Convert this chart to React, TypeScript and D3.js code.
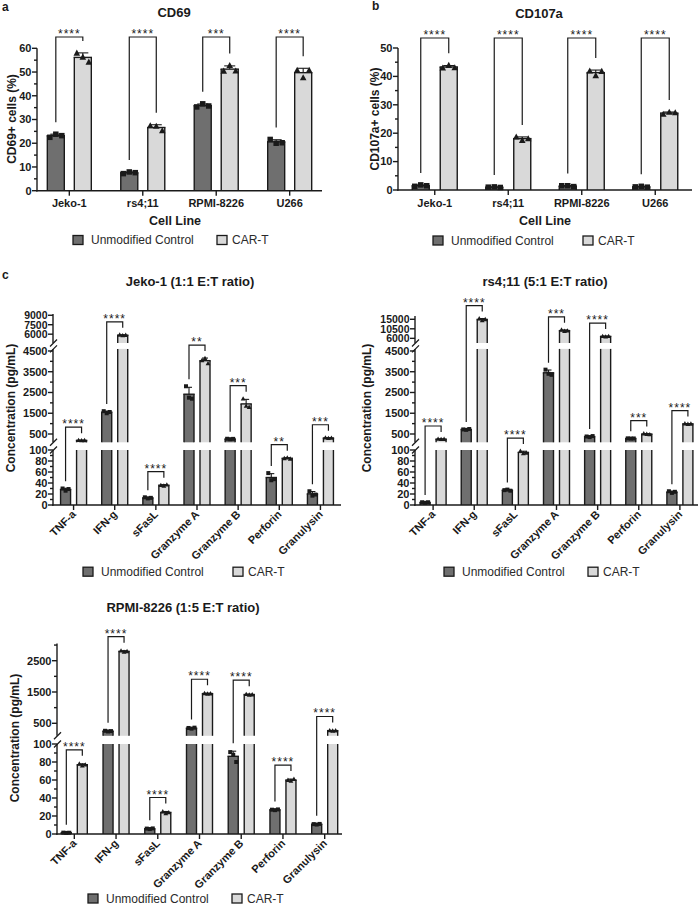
import React from 'react';
import * as d3 from 'd3';

// ---------- data ----------
const cellLines = ['Jeko-1', 'rs4;11', 'RPMI-8226', 'U266'];
const cd69Control = [[22.5, 23.8, 23.2], [7.2, 7.9, 7.6], [35.3, 36.6, 35.7], [21.6, 20.0, 20.2]];
const cd69CarT = [[58.0, 56.3, 54.2], [27.4, 27.2, 25.3], [50.4, 52.8, 50.5], [50.8, 47.6, 50.8]];
const cd69Sig = ['****', '****', '***', '****'];
const cd107aControl = [[1.3, 1.8, 1.5], [1.0, 1.1, 0.9], [1.5, 1.5, 1.2], [1.1, 1.3, 1.0]];
const cd107aCarT = [[43.0, 43.9, 43.1], [18.7, 17.5, 18.1], [41.9, 40.3, 41.8], [26.7, 27.4, 27.2]];
const cd107aSig = ['****', '****', '****', '****'];

const cytokines = ['TNF-a', 'IFN-g', 'sFasL', 'Granzyme A', 'Granzyme B', 'Perforin', 'Granulysin'];
const jekoControl = [[30, 26, 29], [1600, 1500, 1560], [14, 12, 13], [2800, 2250, 2200], [270, 250, 265], [58, 45, 47], [25, 17, 19]];
const jekoCarT = [[200, 190, 195], [5900, 5800, 5850], [36, 35, 37], [4050, 4150, 3900], [2200, 1850, 1800], [85, 86, 84], [320, 300, 310]];
const jekoSig = ['****', '****', '****', '**', '***', '**', '***'];
const rs4Control = [[5, 4, 5], [720, 700, 740], [27, 28, 26], [3600, 3400, 3350], [380, 350, 400], [290, 280, 285], [25, 22, 24]];
const rs4CarT = [[260, 250, 255], [15300, 14500, 15000], [98, 94, 95], [10000, 9400, 9600], [7000, 6800, 7000], [520, 500, 480], [1000, 980, 990]];
const rs4Sig = ['****', '****', '****', '***', '****', '***', '****'];
const rpmiControl = [[1.5, 1.2, 1.4], [260, 240, 250], [6, 5.5, 6.2], [350, 330, 360], [91, 88, 80], [27, 26.5, 27.3], [11, 10.5, 11.2]];
const rpmiCarT = [[78, 76, 77], [2820, 2780, 2800], [25, 23, 24], [1460, 1440, 1450], [1430, 1410, 1420], [60, 59, 61], [270, 260, 265]];
const rpmiSig = ['****', '****', '****', '****', '****', '****', '****'];

const cd69Ticks = [0, 10, 20, 30, 40, 50, 60];
const cd69Minor = [5, 15, 25, 35, 45, 55];
const cd107aTicks = [0, 10, 20, 30, 40, 50];
const cd107aMinor = [5, 15, 25, 35, 45];
const lowTicks = [0, 20, 40, 60, 80, 100];
const lowMinor = [10, 30, 50, 70, 90];
const midTicks = [500, 1500, 2500, 3500, 4500];
const midMinor = [1000, 2000, 3000, 4000];
const jekoTopTicks = [6000, 7500, 9000];
const rs4TopTicks = [6000, 10500, 15000];
const rpmiMidTicks = [500, 1500, 2500];
const rpmiMidMinor = [1000, 2000, 3000];

const legendLabels = ['Unmodified Control', 'CAR-T'];

// ---------- style ----------
const FONT = 'Liberation Sans, Arial, Helvetica, sans-serif';
const CTRL_FILL = '#6f6f6f';
const CAR_FILL = '#d9d9d9';
const INK = '#1a1a1a';
const SW = 1.4;

type Seg = { domain: [number, number]; range: [number, number]; ticks: number[]; minor: number[] };

type PanelProps = {
  cats: string[];
  ctrl: number[][];
  car: number[][];
  sig: string[];
  segs: Seg[];
  axisX: number;
  xEnd: number;
  pad: number;
  barW: number;
  off: number;
  mk: number;
  dx: number;
  capW: number;
  bracketY?: number;
  legGap: number;
  rotate: boolean;
  title: string;
  titleX: number;
  titleY: number;
  yLabel: string;
  yLabelX: number;
  yLabelY: number;
  xTitle?: string;
  xTitleX?: number;
  xTitleY?: number;
  legendY: number;
  legend1X: number;
  legend2X: number;
};

function Panel(p: PanelProps) {
  const x = d3.scalePoint<string>().domain(p.cats).range([p.axisX, p.xEnd]).padding(p.pad);
  const scales = p.segs.map((s) => d3.scaleLinear().domain(s.domain).range(s.range));
  const yOf = (v: number) => {
    for (let i = 0; i < p.segs.length; i++) {
      if (v <= p.segs[i].domain[1] || i === p.segs.length - 1) {
        return scales[i](Math.max(v, p.segs[i].domain[0]));
      }
    }
    return 0;
  };
  const yBase = p.segs[0].range[0];
  const els: React.ReactNode[] = [];

  const stats = (vals: number[]) => {
    const m = d3.mean(vals) as number;
    const sd = d3.deviation(vals) as number;
    return { m, sd, top: Math.max(d3.max(vals) as number, m + sd) };
  };

  p.cats.forEach((c, i) => {
    const gc = x(c) as number;
    [p.ctrl[i], p.car[i]].forEach((vals, s) => {
      const cx = gc + (s === 0 ? -p.off : p.off);
      const { m, sd } = stats(vals);
      const fill = s === 0 ? CTRL_FILL : CAR_FILL;
      const x0 = cx - p.barW / 2;
      const x1 = cx + p.barW / 2;
      p.segs.forEach((seg, k) => {
        if (k > 0 && m <= p.segs[k - 1].domain[1]) return;
        const top = scales[k](Math.min(m, seg.domain[1]));
        const bot = seg.range[0];
        els.push(<rect key={`b${c}${s}${k}`} x={x0} y={top} width={p.barW} height={bot - top} fill={fill} />);
        els.push(<line key={`bl${c}${s}${k}`} x1={x0} x2={x0} y1={top} y2={bot} stroke={INK} strokeWidth={SW} />);
        els.push(<line key={`br${c}${s}${k}`} x1={x1} x2={x1} y1={top} y2={bot} stroke={INK} strokeWidth={SW} />);
        if (m <= seg.domain[1]) {
          els.push(<line key={`bt${c}${s}${k}`} x1={x0 - SW / 2} x2={x1 + SW / 2} y1={top} y2={top} stroke={INK} strokeWidth={SW} />);
        }
      });
      // error bar (mean + SD)
      const ym = yOf(m);
      const ye = yOf(m + sd);
      els.push(<line key={`e${c}${s}`} x1={cx} x2={cx} y1={ym} y2={ye} stroke={INK} strokeWidth={1.1} />);
      els.push(<line key={`ec${c}${s}`} x1={cx - p.capW / 2} x2={cx + p.capW / 2} y1={ye} y2={ye} stroke={INK} strokeWidth={1.1} />);
      // points
      vals.forEach((v, j) => {
        const px = cx + (j - 1) * p.dx;
        const py = yOf(v);
        if (s === 0) {
          els.push(<rect key={`p${c}${s}${j}`} x={px - p.mk / 2} y={py - p.mk / 2} width={p.mk} height={p.mk} fill={INK} />);
        } else {
          const h = p.mk * 1.05;
          els.push(
            <path key={`p${c}${s}${j}`} d={`M${px},${py - h * 0.6}L${px + p.mk * 0.6},${py + h * 0.45}L${px - p.mk * 0.6},${py + h * 0.45}Z`} fill={INK} />
          );
        }
      });
    });
    // significance bracket
    const xl = gc - p.off;
    const xr = gc + p.off;
    const legL = yOf(stats(p.ctrl[i]).top) - p.legGap;
    const legR = yOf(stats(p.car[i]).top) - p.legGap;
    const bt = p.bracketY ?? Math.min(legL, legR) - 6;
    els.push(<path key={`sg${c}`} d={`M${xl},${legL}V${bt}H${xr}V${legR}`} fill="none" stroke={INK} strokeWidth={1.2} />);
    els.push(
      <text key={`st${c}`} x={(xl + xr) / 2} y={bt + 1} textAnchor="middle" fontSize={12} letterSpacing={1} fill={INK}>
        {p.sig[i]}
      </text>
    );
  });

  // y axis segments
  p.segs.forEach((seg, k) => {
    const fs = k > 0 && k === p.segs.length - 1 && p.segs.length > 2 ? 10.5 : 11;
    els.push(<line key={`ya${k}`} x1={p.axisX} x2={p.axisX} y1={seg.range[0] + (k === 0 ? SW / 2 : 0)} y2={seg.range[1]} stroke={INK} strokeWidth={SW} />);
    seg.ticks.forEach((t) => {
      const ty = scales[k](t);
      els.push(<line key={`yt${k}-${t}`} x1={p.axisX - 5} x2={p.axisX} y1={ty} y2={ty} stroke={INK} strokeWidth={SW} />);
      els.push(
        <text key={`yl${k}-${t}`} x={p.axisX - 5.5} y={ty + 3.8} textAnchor="end" fontSize={fs} fontWeight="bold" fill={INK}>
          {t}
        </text>
      );
    });
    seg.minor.forEach((t) => {
      const ty = scales[k](t);
      els.push(<line key={`ym${k}-${t}`} x1={p.axisX - 3} x2={p.axisX} y1={ty} y2={ty} stroke={INK} strokeWidth={SW} />);
    });
    if (k < p.segs.length - 1) {
      const ya = seg.range[1];
      const yb = p.segs[k + 1].range[0];
      [ya, yb].forEach((yy, q) => {
        els.push(<line key={`bk${k}${q}`} x1={p.axisX - 3} x2={p.axisX + 4} y1={yy + 3.5} y2={yy - 3.5} stroke={INK} strokeWidth={1.3} />);
      });
    }
  });

  // x axis
  els.push(<line key="xa" x1={p.axisX - SW / 2} x2={p.xEnd} y1={yBase} y2={yBase} stroke={INK} strokeWidth={SW} />);
  p.cats.forEach((c) => {
    const cx = x(c) as number;
    els.push(<line key={`xt${c}`} x1={cx} x2={cx} y1={yBase} y2={yBase + 5} stroke={INK} strokeWidth={SW} />);
    if (p.rotate) {
      els.push(
        <text key={`xl${c}`} transform={`translate(${cx + 3},${yBase + 10}) rotate(-45)`} textAnchor="end" fontSize={11} fontWeight="bold" fill={INK}>
          {c}
        </text>
      );
    } else {
      els.push(
        <text key={`xl${c}`} x={cx} y={yBase + 16.5} textAnchor="middle" fontSize={11} fontWeight="bold" fill={INK}>
          {c}
        </text>
      );
    }
  });

  // titles
  els.push(
    <text key="title" x={p.titleX} y={p.titleY} textAnchor="middle" fontSize={13} fontWeight="bold" fill={INK}>
      {p.title}
    </text>
  );
  els.push(
    <text key="ylab" transform={`translate(${p.yLabelX},${p.yLabelY}) rotate(-90)`} textAnchor="middle" dominantBaseline="central" fontSize={12} fontWeight="bold" fill={INK}>
      {p.yLabel}
    </text>
  );
  if (p.xTitle) {
    els.push(
      <text key="xtitle" x={p.xTitleX} y={p.xTitleY} textAnchor="middle" fontSize={12.5} fontWeight="bold" fill={INK}>
        {p.xTitle}
      </text>
    );
  }
  // legend
  [p.legend1X, p.legend2X].forEach((lx, s) => {
    els.push(<rect key={`lg${s}`} x={lx} y={p.legendY - 4.5} width={10} height={9} fill={s === 0 ? CTRL_FILL : CAR_FILL} stroke={INK} strokeWidth={1.3} />);
    els.push(
      <text key={`lt${s}`} x={lx + (s === 0 ? 18 : 15)} y={p.legendY + 4.3} fontSize={12} fill="#2a2a2a">
        {legendLabels[s]}
      </text>
    );
  });

  return <g>{els}</g>;
}

export default function App() {
  return (
    <svg width={700} height={905} style={{ position: 'absolute', left: 0, top: 0, background: '#fff' }} fontFamily={FONT}>
      <rect width={700} height={905} fill="#fff" />
      <text x={2} y={11} fontSize={12} fontWeight="bold" fill={INK}>a</text>
      <text x={372} y={10} fontSize={12} fontWeight="bold" fill={INK}>b</text>
      <text x={2} y={279} fontSize={12} fontWeight="bold" fill={INK}>c</text>

      <Panel
        cats={cellLines} ctrl={cd69Control} car={cd69CarT} sig={cd69Sig}
        segs={[{ domain: [0, 60], range: [190.7, 48.3], ticks: cd69Ticks, minor: cd69Minor }]}
        axisX={37} xEnd={322} pad={0.44} barW={17} off={13.5} mk={5.5} dx={6} capW={11}
        bracketY={37} legGap={12} rotate={false}
        title="CD69" titleX={174} titleY={17}
        yLabel="CD69+ cells (%)" yLabelX={12} yLabelY={119}
        xTitle="Cell Line" xTitleX={175} xTitleY={224.5}
        legendY={240} legend1X={73} legend2X={217}
      />
      <Panel
        cats={cellLines} ctrl={cd107aControl} car={cd107aCarT} sig={cd107aSig}
        segs={[{ domain: [0, 50], range: [190, 48], ticks: cd107aTicks, minor: cd107aMinor }]}
        axisX={398} xEnd={692} pad={0.5} barW={17} off={14} mk={5.5} dx={6} capW={11}
        bracketY={38} legGap={12} rotate={false}
        title="CD107a" titleX={539} titleY={17.5}
        yLabel="CD107a+ cells (%)" yLabelX={375} yLabelY={119}
        xTitle="Cell Line" xTitleX={545} xTitleY={224.5}
        legendY={240.5} legend1X={433} legend2X={583}
      />
      <Panel
        cats={cytokines} ctrl={jekoControl} car={jekoCarT} sig={jekoSig}
        segs={[
          { domain: [0, 100], range: [505, 450], ticks: lowTicks, minor: lowMinor },
          { domain: [100, 4600], range: [442.3, 348.9], ticks: midTicks, minor: midMinor },
          { domain: [4600, 9200], range: [343, 314], ticks: jekoTopTicks, minor: [] },
        ]}
        axisX={53} xEnd={341} pad={0.5} barW={10} off={8} mk={4} dx={3} capW={6}
        legGap={7} rotate={true}
        title="Jeko-1 (1:1 E:T ratio)" titleX={190} titleY={285.5}
        yLabel="Concentration (pg/mL)" yLabelX={11} yLabelY={408}
        legendY={571.7} legend1X={83} legend2X={233}
      />
      <Panel
        cats={cytokines} ctrl={rs4Control} car={rs4CarT} sig={rs4Sig}
        segs={[
          { domain: [0, 100], range: [505, 450], ticks: lowTicks, minor: lowMinor },
          { domain: [100, 4600], range: [442.3, 348.9], ticks: midTicks, minor: midMinor },
          { domain: [3800, 16500], range: [343, 316.1], ticks: rs4TopTicks, minor: [] },
        ]}
        axisX={415} xEnd={698} pad={0.44} barW={10} off={8} mk={4} dx={3} capW={6}
        legGap={7} rotate={true}
        title="rs4;11 (5:1 E:T ratio)" titleX={545} titleY={285.5}
        yLabel="Concentration (pg/mL)" yLabelX={367} yLabelY={408}
        legendY={571.7} legend1X={444} legend2X={588}
      />
      <Panel
        cats={cytokines} ctrl={rpmiControl} car={rpmiCarT} sig={rpmiSig}
        segs={[
          { domain: [0, 100], range: [834, 744], ticks: lowTicks, minor: lowMinor },
          { domain: [100, 3050], range: [735.8, 643.5], ticks: rpmiMidTicks, minor: rpmiMidMinor },
        ]}
        axisX={57} xEnd={342} pad={0.415} barW={10} off={8} mk={4} dx={3} capW={6}
        legGap={8} rotate={true}
        title="RPMI-8226 (1:5 E:T ratio)" titleX={183} titleY={611.5}
        yLabel="Concentration (pg/mL)" yLabelX={15} yLabelY={738}
        legendY={898.5} legend1X={88} legend2X={232}
      />
    </svg>
  );
}
